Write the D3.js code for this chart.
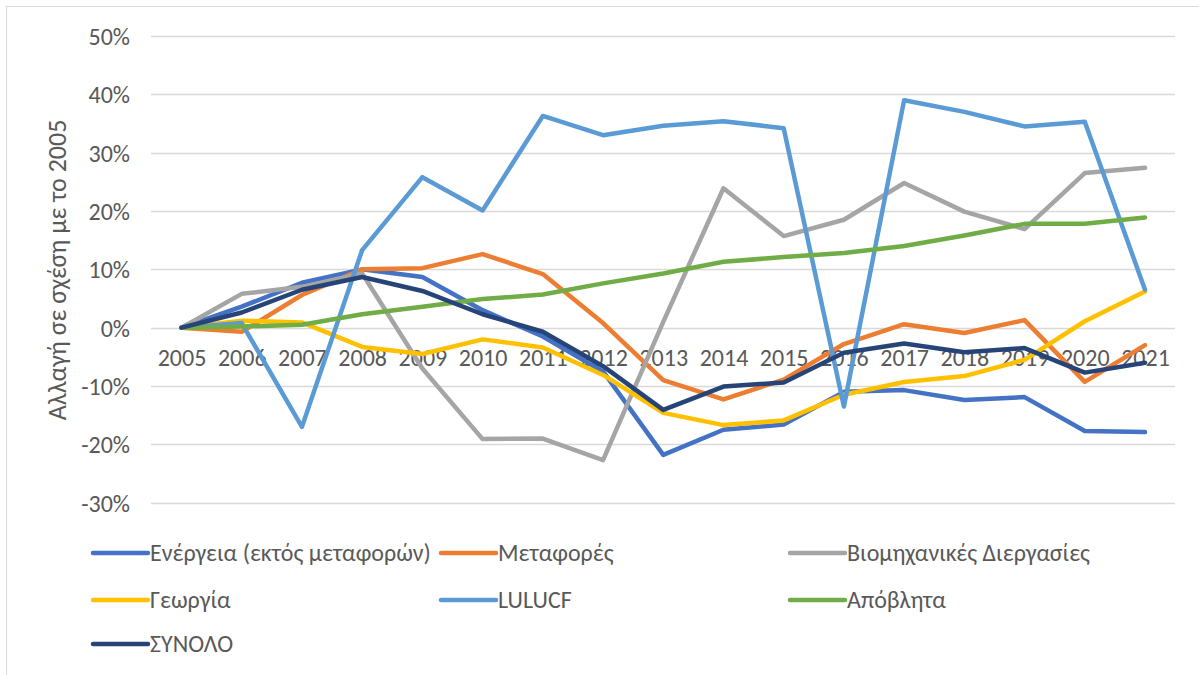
<!DOCTYPE html>
<html>
<head>
<meta charset="utf-8">
<script src="https://cdn.jsdelivr.net/npm/d3@7"></script>
<style>
    body {
        padding: 0;
        margin: 0;
        background: #fff;
    }
    text {
        font-family: Carlito, "Open Sans", "Liberation Sans", sans-serif;
        fill: #595959;
    }
</style>
</head>
<body>
<script>
const years = d3.range(2005, 2022);
const yTicks = [-0.3, -0.2, -0.1, 0, 0.1, 0.2, 0.3, 0.4, 0.5];
const yLabel = 'Αλλαγή σε σχέση με το 2005';

// values in % change vs 2005
const energy   = [0, 3.6, 7.7, 10.0, 8.7, 3.0, -1.5, -7.5, -21.8, -17.5, -16.6, -11.0, -10.7, -12.4, -11.9, -17.7, -17.9];
const transport = [0, -0.7, 5.6, 10.0, 10.2, 12.6, 9.2, 0.8, -9.0, -12.3, -8.9, -2.8, 0.6, -0.9, 1.3, -9.3, -3.0];
const industry = [0, 5.8, 7.0, 9.3, -7.0, -19.1, -19.0, -22.7, 1.0, 23.9, 15.7, 18.5, 24.8, 19.9, 16.9, 26.5, 27.4];
const agriculture = [0, 1.2, 0.9, -3.3, -4.5, -2.0, -3.4, -8.1, -14.6, -16.7, -15.9, -11.5, -9.3, -8.3, -5.5, 1.1, 6.2];
const lulucf   = [0, 0.8, -17.0, 13.3, 25.8, 20.1, 36.3, 33.0, 34.6, 35.4, 34.2, -13.5, 39.0, 37.0, 34.5, 35.3, 6.5];
const waste    = [0, 0.2, 0.5, 2.3, 3.6, 4.9, 5.7, 7.6, 9.3, 11.3, 12.1, 12.8, 14.0, 15.8, 17.8, 17.8, 18.9];
const total    = [0, 2.6, 6.5, 8.7, 6.3, 2.3, -0.7, -6.6, -14.1, -10.1, -9.4, -4.3, -2.7, -4.2, -3.5, -7.7, -6.0];

const seriesNames = ['Ενέργεια (εκτός μεταφορών)', 'Μεταφορές', 'Βιομηχανικές Διεργασίες',
    'Γεωργία', 'LULUCF', 'Απόβλητα', 'ΣΥΝΟΛΟ'];
const seriesValues = [energy, transport, industry, agriculture, lulucf, waste, total];
const colors = ['#4472C4', '#ED7D31', '#A5A5A5', '#FFC000', '#5B9BD5', '#70AD47', '#264478'];

const width = 1199;
const height = 675;
const fontSize = 24;

const svg = d3.create('svg')
    .attr('viewBox', [0, 0, width, height])
    .attr('width', width)
    .attr('height', height);

document.body.appendChild(svg.node());

// outer chart border
svg.append('rect')
    .attr('x', 6.5).attr('y', 6.5)
    .attr('width', width + 10).attr('height', height + 10)
    .attr('fill', 'none')
    .attr('stroke', '#D9D9D9');

const x = d3.scalePoint()
    .domain(years)
    .range([181.5, 1145]);

const y = d3.scaleLinear()
    .domain([-0.3, 0.5])
    .range([502.7, 36]);

// gridlines
svg.append('g')
    .selectAll('line')
    .data(yTicks)
    .join('line')
        .attr('x1', 151)
        .attr('x2', 1175)
        .attr('y1', d => Math.round(y(d)) + 0.5)
        .attr('y2', d => Math.round(y(d)) + 0.5)
        .attr('stroke', '#D9D9D9')
        .attr('stroke-width', 1.3);

// y axis labels (hyphen minus like the original)
const yAxis = d3.axisLeft(y)
    .tickValues(yTicks)
    .tickFormat(d => Math.round(d * 100) + '%')
    .tickSize(0)
    .tickPadding(0);

svg.append('g')
    .attr('transform', 'translate(130,0)')
    .call(yAxis)
    .call(g => g.select('.domain').remove())
    .call(g => g.selectAll('text')
        .attr('font-size', fontSize)
        .attr('dy', '0.35em')
        .style('font-family', 'Carlito, "Open Sans", "Liberation Sans", sans-serif')
        .attr('fill', '#595959'));

// x axis labels at the zero line
const xAxis = d3.axisBottom(x)
    .tickSize(0)
    .tickPadding(0);

svg.append('g')
    .attr('transform', `translate(0,${y(0)})`)
    .call(xAxis)
    .call(g => g.select('.domain').remove())
    .call(g => g.selectAll('text')
        .attr('y', 38)
        .attr('dy', 0)
        .attr('font-size', fontSize)
        .style('font-family', 'Carlito, "Open Sans", "Liberation Sans", sans-serif')
        .attr('fill', '#595959'));

// axis title
svg.append('text')
    .attr('transform', 'translate(66,270) rotate(-90)')
    .attr('text-anchor', 'middle')
    .attr('font-size', 26)
    .text(yLabel);

const line = d3.line()
    .x((d, i) => x(years[i]))
    .y(d => y(d / 100));

svg.append('g')
    .selectAll('path')
    .data(seriesValues)
    .join('path')
        .attr('d', line)
        .attr('fill', 'none')
        .attr('stroke', (d, i) => colors[i])
        .attr('stroke-width', 4.5)
        .attr('stroke-linejoin', 'round')
        .attr('stroke-linecap', 'round');

// legend
const legendCols = [93, 441, 790];
const legendRows = [553, 600, 644];

const legend = svg.append('g')
    .selectAll('g')
    .data(seriesNames)
    .join('g')
        .attr('transform', (d, i) => `translate(${legendCols[i % 3]},${legendRows[Math.floor(i / 3)]})`);

legend.append('line')
    .attr('x1', 0).attr('x2', 55)
    .attr('y1', 0).attr('y2', 0)
    .attr('stroke', (d, i) => colors[i])
    .attr('stroke-width', 4.5)
    .attr('stroke-linecap', 'round');

legend.append('text')
    .attr('x', 57)
    .attr('dy', '0.35em')
    .attr('font-size', fontSize)
    .text(d => d);
</script>
</body>
</html>
